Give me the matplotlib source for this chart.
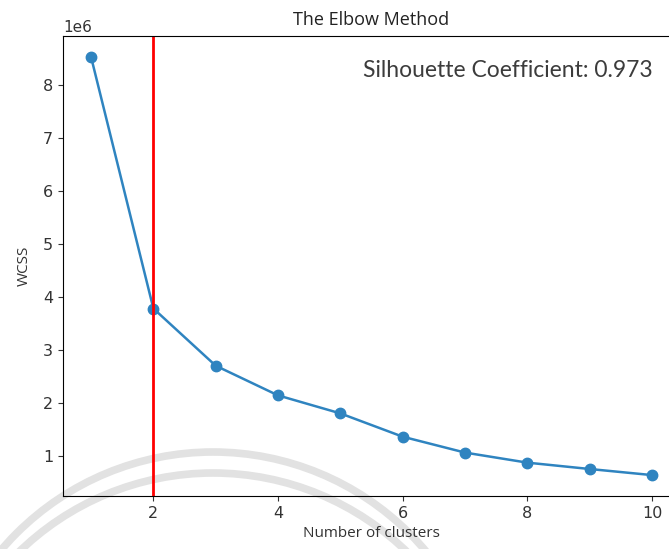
import numpy as np
import matplotlib
matplotlib.use("Agg")
import matplotlib.pyplot as plt
from matplotlib.patches import Arc

# WCSS for k = 1..10
clusters = [1, 2, 3, 4, 5, 6, 7, 8, 9, 10]
wcss = [8.53e6, 3.78e6, 2.70e6, 2.14e6, 1.80e6, 1.36e6, 1.06e6, 0.87e6, 0.75e6, 0.635e6]
best_k = 2
silhouette = 0.973


def main():
    fig = plt.figure(figsize=(6.69, 5.49), dpi=100)

    # faint watermark arcs from the scanned page
    for (cx, cy, r) in [(213, 730, 278), (213, 751, 278)]:
        arc = Arc((cx / 669, 1 - cy / 549), 2 * r / 669, 2 * r / 549,
                  theta1=0, theta2=180, transform=fig.transFigure,
                  color="#e2e2e2", lw=5.5, zorder=-5)
        fig.patches.append(arc)

    ax = fig.add_axes([63 / 669, 53 / 549, 617 / 669, 460 / 549])
    ax.patch.set_alpha(0)

    ax.plot(clusters, wcss, marker="o", color="#2f84c0", lw=1.8, ms=7.5)
    ax.axvline(best_k, color="red", lw=2)

    ax.set_title("The Elbow Method", fontsize=13, family="Open Sans", color="#222222", pad=8)
    ax.set_xlabel("Number of clusters", fontsize=11, family="Open Sans", color="#333333")
    ax.set_ylabel("WCSS", fontsize=11, family="Open Sans", color="#333333", labelpad=8)
    ax.tick_params(labelsize=11.5, colors="#333333")
    ax.yaxis.get_offset_text().set_fontsize(11)

    ax.text(0.955, 0.925, f"Silhouette Coefficient: {silhouette}", transform=ax.transAxes,
            ha="right", va="center", fontsize=16.5, family="Lato", color="#3c3c3c")

    fig.savefig("out.png", dpi=100)


if __name__ == "__main__":
    main()
